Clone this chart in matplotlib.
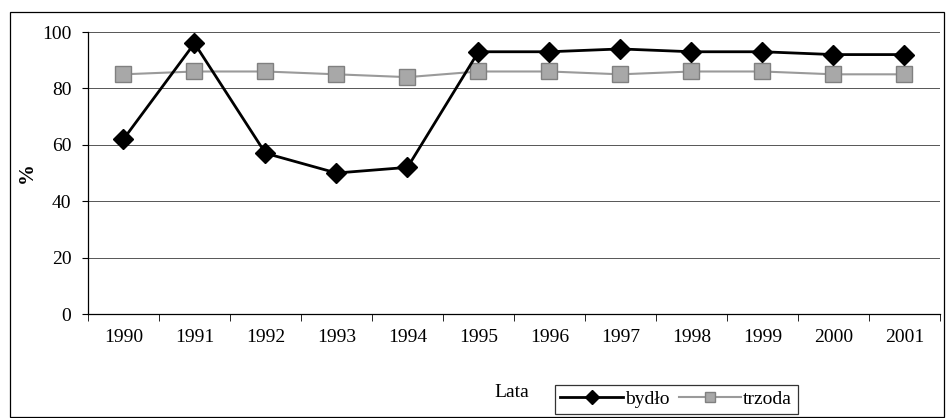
import matplotlib
matplotlib.use("Agg")
import matplotlib.pyplot as plt
from matplotlib.patches import Rectangle
import numpy as np

years = ["1990", "1991", "1992", "1993", "1994", "1995",
         "1996", "1997", "1998", "1999", "2000", "2001"]
bydlo = [62, 96, 57, 50, 52, 93, 93, 94, 93, 93, 92, 92]
trzoda = [85, 86, 86, 85, 84, 86, 86, 85, 86, 86, 85, 85]

plt.rcParams["font.family"] = "Liberation Serif"

fig = plt.figure(figsize=(9.47, 4.18), dpi=100)
ax = fig.add_axes([0.0929, 0.2488, 0.8997, 0.6746])

x = np.arange(len(years))
ax.plot(x, trzoda, color="#9a9a9a", lw=1.5, marker="s", ms=11,
        markerfacecolor="#a8a8a8", markeredgecolor="#808080", label="trzoda", zorder=3)
ax.plot(x, bydlo, color="black", lw=2, marker="D", ms=10,
        markerfacecolor="black", label="bydło", zorder=4)

ax.set_xlim(-0.5, len(years) - 0.5)
ax.set_ylim(0, 100)
ax.set_yticks(range(0, 101, 20))
ax.set_xticks(x)
ax.set_xticklabels(years, fontsize=14)
ax.set_xticks(np.arange(-0.5, len(years), 1), minor=True)
ax.tick_params(axis="x", which="major", length=0, pad=11)
ax.tick_params(axis="x", which="minor", length=5, direction="out")
ax.tick_params(axis="y", labelsize=14, length=4, pad=8)
ax.yaxis.grid(True, color="#555555", lw=0.7)
ax.set_axisbelow(True)
for s in ["top", "right"]:
    ax.spines[s].set_visible(False)
ax.spines["left"].set_linewidth(0.9)
ax.spines["bottom"].set_linewidth(0.9)
ax.set_ylabel("%", fontsize=15, fontweight="bold", labelpad=4)

fig.text(0.54, 0.062, "Lata", fontsize=14, ha="center", va="center")

handles, labels = ax.get_legend_handles_labels()
leg = fig.legend(handles[::-1], labels[::-1], loc="center", bbox_to_anchor=(0.714, 0.045),
                 ncol=2, fontsize=14, frameon=True, fancybox=False, markerscale=0.7,
                 edgecolor="black", handlelength=3.2, handletextpad=0.1,
                 columnspacing=0.5, borderpad=0.3)
leg.get_frame().set_linewidth(0.9)

fig.patches.append(Rectangle((0.011, 0.003), 0.986, 0.969, transform=fig.transFigure,
                             fill=False, edgecolor="black", lw=0.9))

fig.savefig("out.png", dpi=100)
